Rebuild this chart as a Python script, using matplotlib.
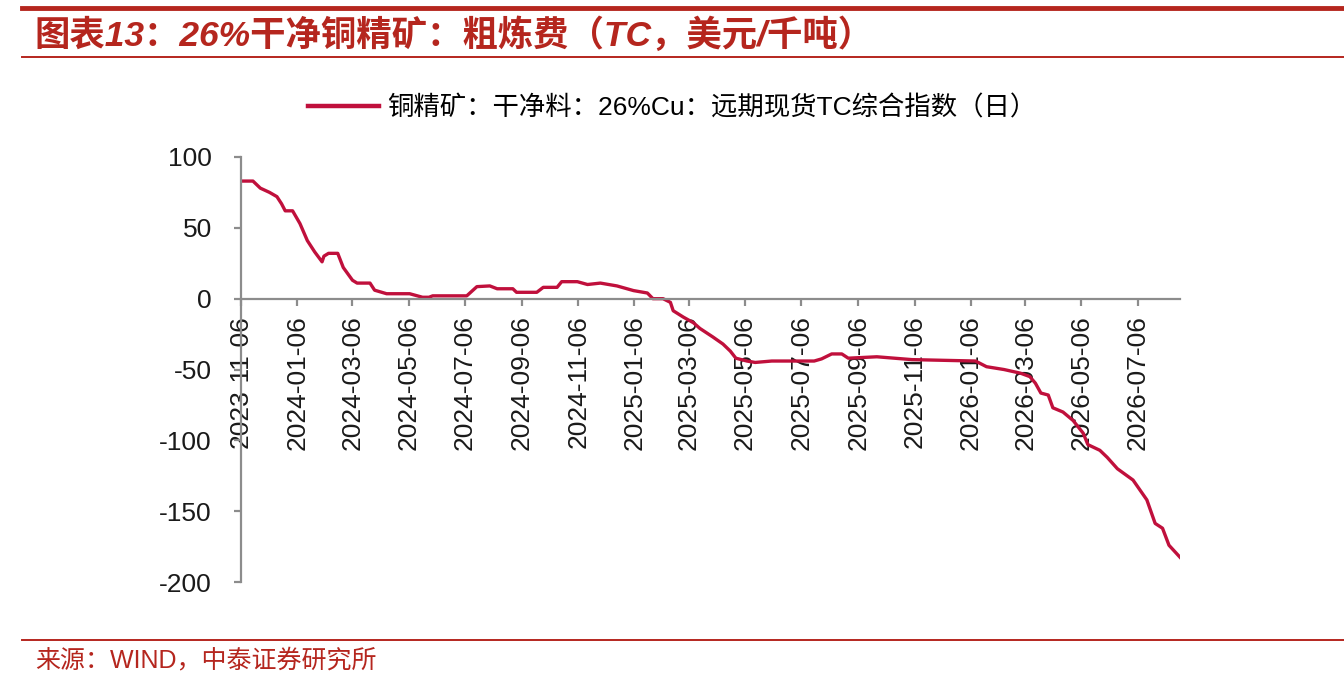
import pandas as pd
import matplotlib.pyplot as plt
import matplotlib.dates as mdates
from matplotlib.lines import Line2D

plt.rcParams['font.family'] = ['Liberation Sans', 'Noto Sans CJK SC', 'DejaVu Sans']
plt.rcParams['axes.unicode_minus'] = False

# weekly TC index (USD / dmt)
dates = ['2023-11-06', '2023-11-19', '2023-11-27', '2023-12-07', '2023-12-15', '2023-12-20',
         '2023-12-24', '2024-01-01', '2024-01-09', '2024-01-17', '2024-01-25', '2024-02-02',
         '2024-02-04', '2024-02-09', '2024-02-19', '2024-02-25', '2024-03-06', '2024-03-11',
         '2024-03-25', '2024-03-30', '2024-04-12', '2024-05-07', '2024-05-21', '2024-05-28',
         '2024-06-01', '2024-07-08', '2024-07-19', '2024-08-02', '2024-08-10', '2024-08-27',
         '2024-08-31', '2024-09-22', '2024-09-29', '2024-10-14', '2024-10-19', '2024-11-05',
         '2024-11-16', '2024-11-30', '2024-12-18', '2025-01-05', '2025-01-20', '2025-01-26',
         '2025-02-06', '2025-02-14', '2025-02-17', '2025-02-28', '2025-03-11', '2025-03-18',
         '2025-04-01', '2025-04-12', '2025-04-20', '2025-04-26', '2025-05-08', '2025-05-17',
         '2025-06-04', '2025-07-20', '2025-07-28', '2025-08-08', '2025-08-19', '2025-08-26',
         '2025-09-26', '2025-11-03', '2026-01-11', '2026-01-23', '2026-02-11', '2026-03-01',
         '2026-03-11', '2026-03-17', '2026-03-23', '2026-03-31', '2026-04-05', '2026-04-16',
         '2026-04-27', '2026-05-08', '2026-05-13', '2026-05-26', '2026-06-03', '2026-06-14',
         '2026-07-01', '2026-07-16', '2026-07-25', '2026-08-02', '2026-08-09', '2026-08-21']
tc = [83, 83, 78, 75, 72, 67,
      62, 62, 53, 41, 33, 26,
      30, 32, 32, 22, 13, 11,
      11, 6, 3.5, 3.5, 1, 1,
      2, 2, 8.5, 9, 7, 7,
      4.5, 4.5, 8, 8, 12, 12,
      10, 11, 9, 5.7, 4, 0,
      0, -2.6, -8.5, -13, -17, -21,
      -27, -32, -37, -42, -44, -45,
      -44, -44, -42.5, -39, -39, -42,
      -41, -43, -44, -48, -50, -52.6,
      -55, -59.6, -66.6, -68, -77, -80,
      -86, -95, -103, -107, -112, -120,
      -128, -142, -158.6, -162, -174, -182.5]

tick_dates = pd.date_range('2023-11-06', periods=17, freq=pd.DateOffset(months=2))
yticks = [-200, -150, -100, -50, 0, 50, 100]

legend_label = '铜精矿：干净料：26%Cu：远期现货TC综合指数（日）'
title = '图表13：26%干净铜精矿：粗炼费（TC，美元/千吨）'
source = '来源：WIND，中泰证券研究所'

red = '#B5261E'
line_color = '#C0103C'
axis_gray = '#8C8C8C'

fig = plt.figure(figsize=(13.44, 6.84), dpi=100)
ax = fig.add_axes([0.1793, 0.149, 0.6987, 0.6215])

x = pd.to_datetime(dates)
ax.plot(x, tc, color=line_color, lw=2.4, label=legend_label)

ax.set_ylim(-200, 100)
ax.set_xlim(pd.Timestamp('2023-11-06'), pd.Timestamp('2026-08-21'))
ax.set_yticks(yticks)
ax.set_xticks(tick_dates)
ax.xaxis.set_major_formatter(mdates.DateFormatter('%Y-%m-%d'))

for s in ['top', 'right']:
    ax.spines[s].set_visible(False)
ax.spines['bottom'].set_position(('data', 0))
for s in ['left', 'bottom']:
    ax.spines[s].set_color(axis_gray)
    ax.spines[s].set_linewidth(1.6)

ax.tick_params(axis='y', direction='out', length=5, width=1.6, color=axis_gray,
               labelsize=19, pad=16, labelcolor='#1a1a1a')
ax.tick_params(axis='x', direction='out', length=5, width=1.6, color=axis_gray,
               labelsize=19, pad=7, labelcolor='#1a1a1a', labelrotation=90)

handle = Line2D([], [], color=line_color, lw=3.2)
fig.legend([handle], [legend_label], loc='center', bbox_to_anchor=(0.5, 0.842),
           frameon=False, fontsize=19, handlelength=2.7, handletextpad=0.3)

# header / footer decoration
fig.add_artist(Line2D([0.016, 1.0], [0.988, 0.988], color=red, lw=3.5))
fig.add_artist(Line2D([0.016, 1.0], [0.917, 0.917], color=red, lw=1.4))
fig.add_artist(Line2D([0.016, 1.0], [0.064, 0.064], color=red, lw=1.4))

fig.text(0.026, 0.948, title, color=red, fontsize=25.5, fontweight='bold',
         fontstyle='italic', va='center', ha='left')
fig.text(0.026, 0.035, source, color=red, fontsize=18, va='center', ha='left')

fig.savefig('out.png', dpi=100)
